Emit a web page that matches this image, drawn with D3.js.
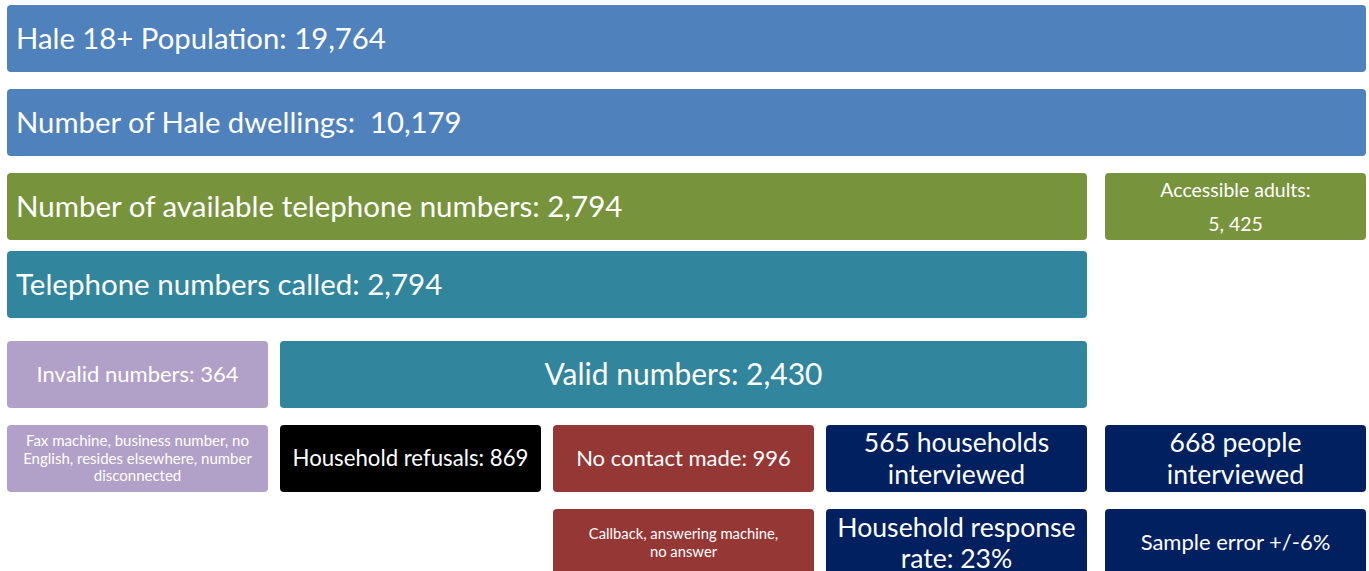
<!DOCTYPE html>
<html><head><meta charset="utf-8">
<script src="https://cdn.jsdelivr.net/npm/d3@7"></script>
<style>html,body{margin:0;padding:0;background:#fff;}svg{display:block;}</style>
</head><body>
<script>
// ---- data ----
const boxLabels = [
  ["Hale 18+ Population: 19,764"],
  ["Number of Hale dwellings:  10,179"],
  ["Number of available telephone numbers: 2,794"],
  ["Accessible adults:", "5, 425"],
  ["Telephone numbers called: 2,794"],
  ["Invalid numbers: 364"],
  ["Valid numbers: 2,430"],
  ["Fax machine, business number, no", "English, resides elsewhere, number", "disconnected"],
  ["Household refusals: 869"],
  ["No contact made: 996"],
  ["565 households", "interviewed"],
  ["668 people", "interviewed"],
  ["Callback, answering machine,", "no answer"],
  ["Household response", "rate: 23%"],
  ["Sample error +/-6%"]
];
const counts = [19764, 10179, 2794, 5425, 2794, 364, 2430, null, 869, 996, 565, 668, null, null, null];
const groups = ["population","population","available","available","called","invalid","valid","invalid","refusal","nocontact","result","result","nocontact","result","result"];

// ---- layout (grid) ----
const W = 1369, H = 571;
const rowTop = [5, 89, 173, 251, 341, 425, 509];
const rowH = 67;
const colEdges = [7, 268, 280, 541, 553, 814, 826, 1087, 1105, 1366]; // [start,end] pairs
// each box: row, first col, last col, align, font size, line gap
const layout = [
  {r:0,c0:0,c1:4,align:"left",fs:29.3,lh:0},
  {r:1,c0:0,c1:4,align:"left",fs:29.3,lh:0},
  {r:2,c0:0,c1:3,align:"left",fs:29.5,lh:0},
  {r:2,c0:4,c1:4,align:"middle",fs:19.5,lh:34},
  {r:3,c0:0,c1:3,align:"left",fs:29.5,lh:0},
  {r:4,c0:0,c1:0,align:"middle",fs:22,lh:0},
  {r:4,c0:1,c1:3,align:"middle",fs:30,lh:0},
  {r:5,c0:0,c1:0,align:"middle",fs:15,lh:17.5},
  {r:5,c0:1,c1:1,align:"middle",fs:22.2,lh:0},
  {r:5,c0:2,c1:2,align:"middle",fs:22,lh:0},
  {r:5,c0:3,c1:3,align:"middle",fs:26.5,lh:32},
  {r:5,c0:4,c1:4,align:"middle",fs:26.5,lh:32},
  {r:6,c0:2,c1:2,align:"middle",fs:14.8,lh:17.5},
  {r:6,c0:3,c1:3,align:"middle",fs:26.6,lh:31},
  {r:6,c0:4,c1:4,align:"middle",fs:22,lh:0}
];
const colorScale = d3.scaleOrdinal()
  .domain(["population","available","called","valid","invalid","refusal","nocontact","result"])
  .range(["#4F81BD","#77933C","#31859C","#31859C","#B1A0C7","#000000","#953735","#002060"]);

const svg = d3.select("body").append("svg").attr("width", W).attr("height", H)
  .style("font-family", "Lato, 'Open Sans', sans-serif");

const boxes = boxLabels.map((lines, i) => {
  const L = layout[i];
  const x0 = colEdges[L.c0*2], x1 = colEdges[L.c1*2+1];
  return {lines, count: counts[i], group: groups[i], x: x0, w: x1 - x0, y: rowTop[L.r], h: rowH, L};
});

const g = svg.selectAll("g.box").data(boxes).join("g").attr("class","box");
g.append("rect")
  .attr("x", d => d.x).attr("y", d => d.y)
  .attr("width", d => d.w).attr("height", d => d.h)
  .attr("rx", 4).attr("ry", 4)
  .attr("fill", d => colorScale(d.group));

g.each(function(d){
  const sel = d3.select(this);
  const n = d.lines.length;
  const cy = d.y + d.h/2;
  const tx = d.L.align === "left" ? d.x + 9 : d.x + d.w/2;
  d.lines.forEach((t, k) => {
    const lineC = cy + (k - (n-1)/2) * d.L.lh;
    sel.append("text")
      .attr("x", tx).attr("y", lineC)
      .attr("dy", "0.36em")
      .attr("text-anchor", d.L.align === "left" ? "start" : "middle")
      .attr("fill", "#fff")
      .attr("font-size", d.L.fs)
      .style("white-space","pre")
      .text(t);
  });
});
</script>
</body></html>
